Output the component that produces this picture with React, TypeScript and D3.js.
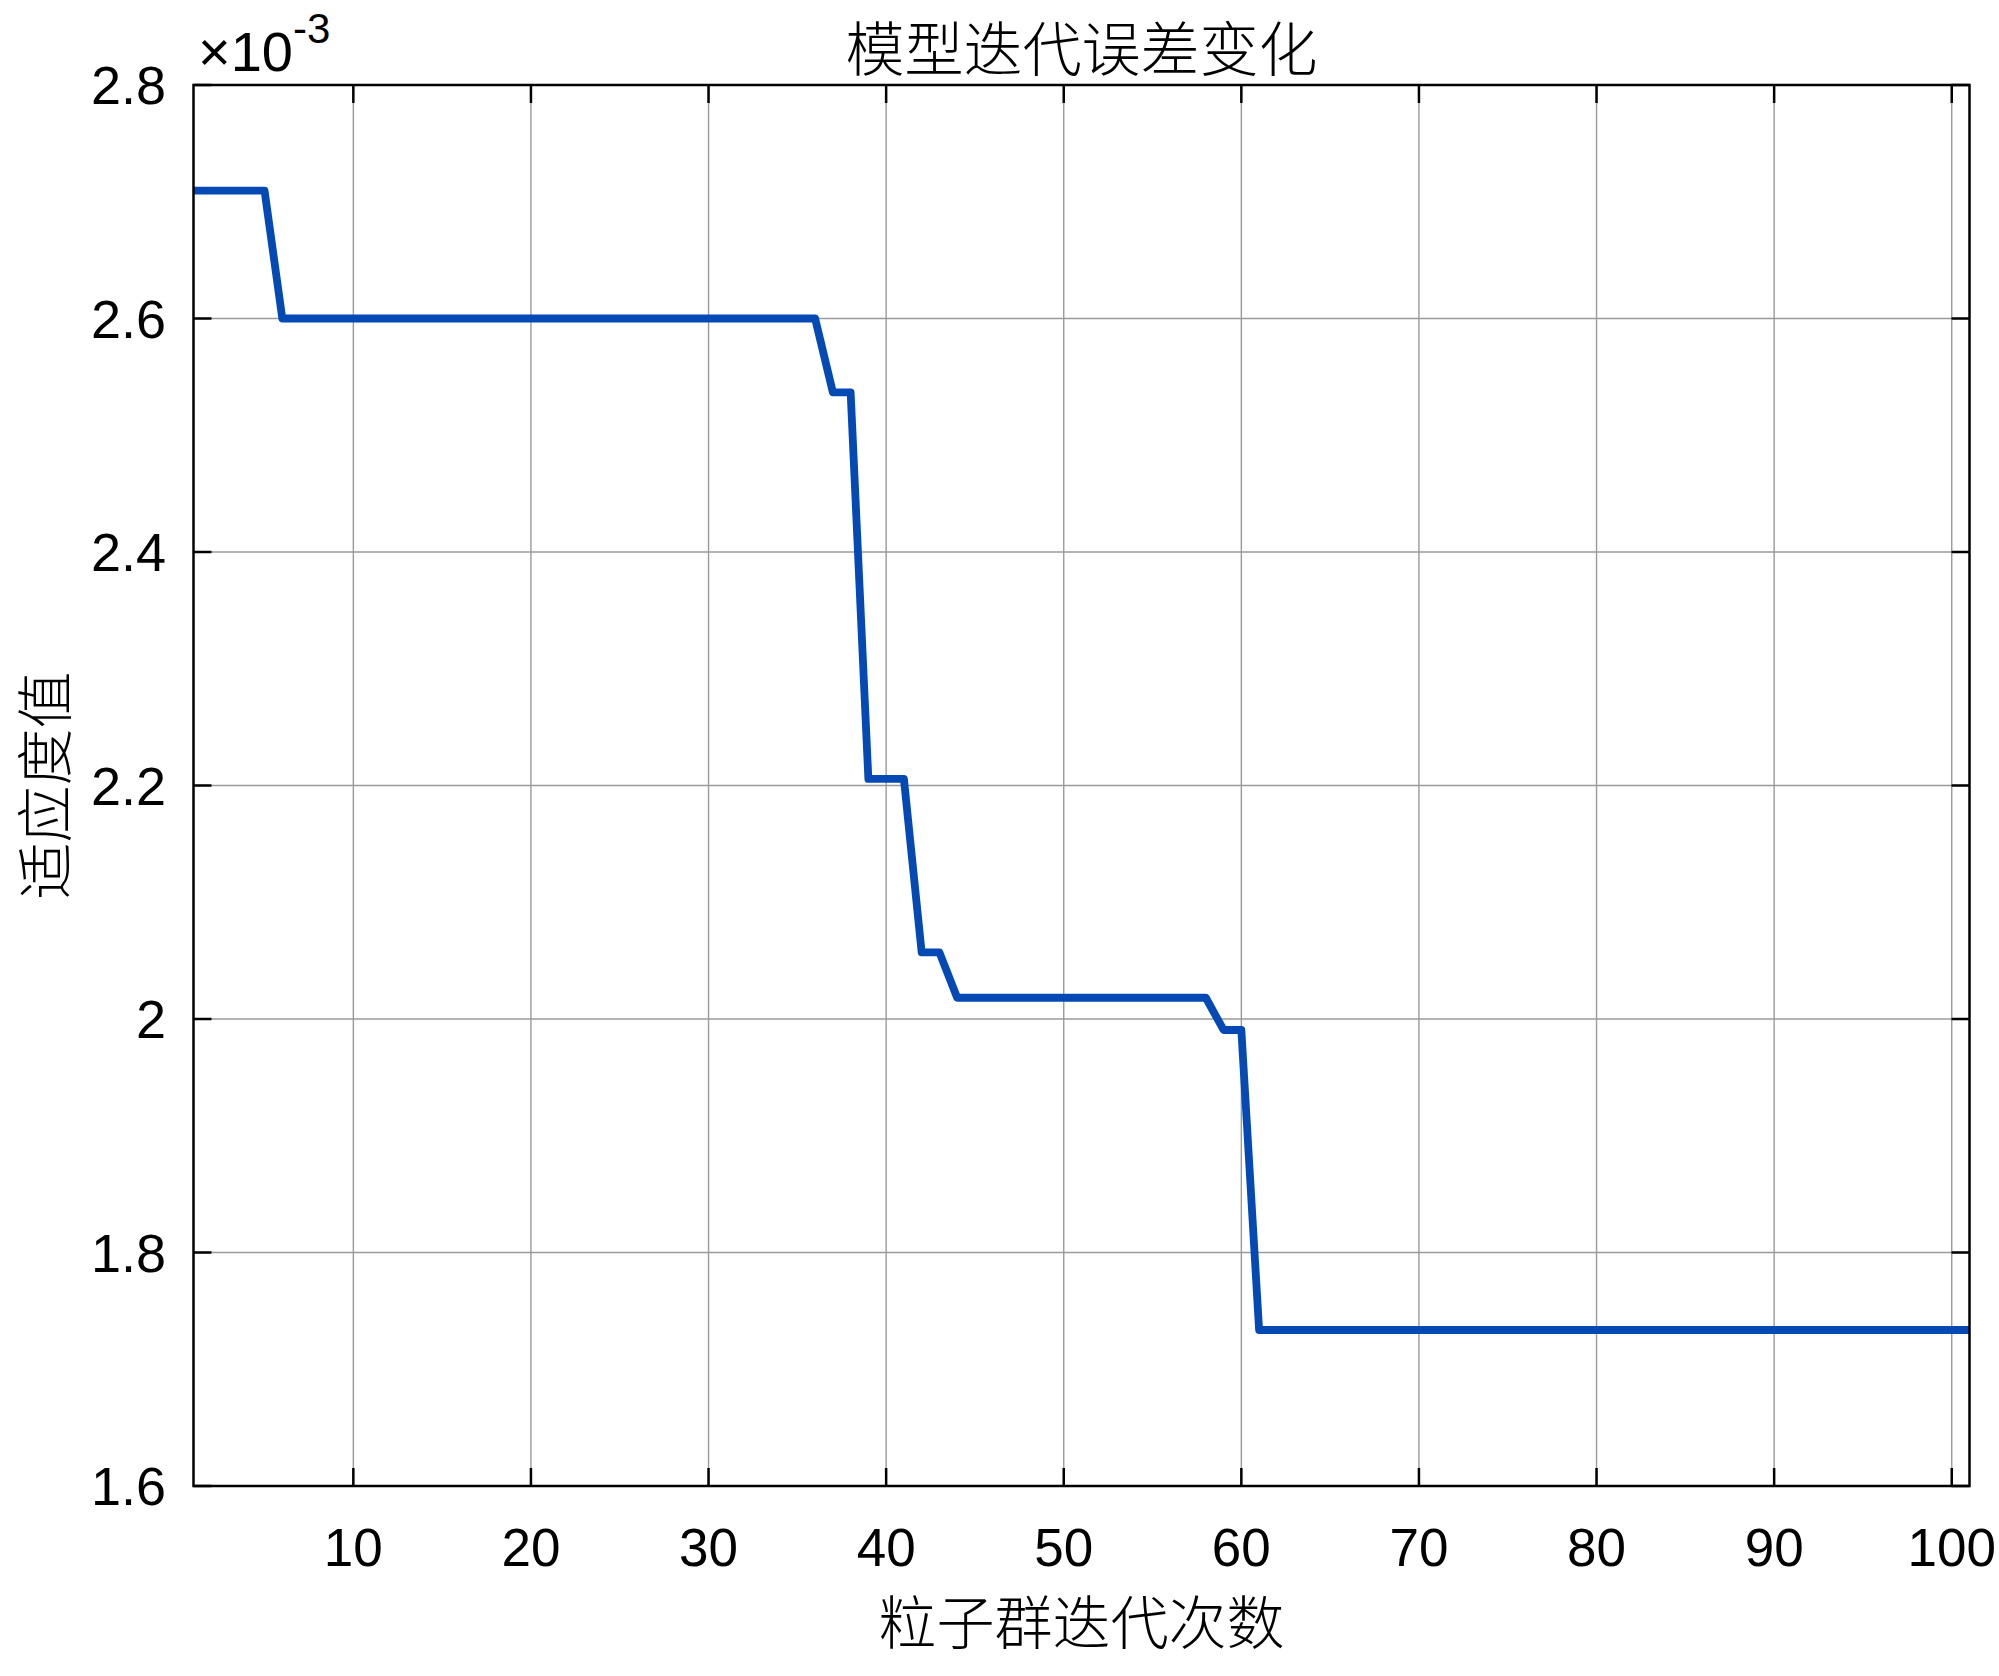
import React, { useEffect, useRef } from 'react';
import * as d3 from 'd3';

// 粒子群每次迭代的最优适应度值 (×10^-3)
const fitness = [
  2.7095, 2.7095, 2.7095, 2.7095, 2.7095,
  2.6, 2.6, 2.6, 2.6, 2.6, 2.6, 2.6, 2.6, 2.6, 2.6,
  2.6, 2.6, 2.6, 2.6, 2.6, 2.6, 2.6, 2.6, 2.6, 2.6,
  2.6, 2.6, 2.6, 2.6, 2.6, 2.6, 2.6, 2.6, 2.6, 2.6, 2.6,
  2.5368, 2.5368,
  2.2056, 2.2056, 2.2056,
  2.0571, 2.0571,
  2.0182, 2.0182, 2.0182, 2.0182, 2.0182, 2.0182, 2.0182, 2.0182,
  2.0182, 2.0182, 2.0182, 2.0182, 2.0182, 2.0182, 2.0182,
  1.9906, 1.9906,
  1.7336, 1.7336, 1.7336, 1.7336, 1.7336, 1.7336, 1.7336, 1.7336, 1.7336, 1.7336,
  1.7336, 1.7336, 1.7336, 1.7336, 1.7336, 1.7336, 1.7336, 1.7336, 1.7336, 1.7336,
  1.7336, 1.7336, 1.7336, 1.7336, 1.7336, 1.7336, 1.7336, 1.7336, 1.7336, 1.7336,
  1.7336, 1.7336, 1.7336, 1.7336, 1.7336, 1.7336, 1.7336, 1.7336, 1.7336, 1.7336,
  1.7336
];

const xTicks = [10, 20, 30, 40, 50, 60, 70, 80, 90, 100];
const yTicks = [1.6, 1.8, 2.0, 2.2, 2.4, 2.6, 2.8];

const titleText = '模型迭代误差变化';
const xLabel = '粒子群迭代次数';
const yLabel = '适应度值';

const W = 1999;
const H = 1676;
const left = 193.5;
const top = 85;
const right = 1969.5;
const bottom = 1486;

const cjk = '"Noto Sans CJK SC", sans-serif';
const latin = '"Liberation Sans", Arial, sans-serif';

const App = () => {
  const ref = useRef<SVGSVGElement | null>(null);

  useEffect(() => {
    const svg = d3.select(ref.current);
    svg.selectAll('*').remove();

    const x = d3.scaleLinear().domain([1, 101]).range([left, right]);
    const y = d3.scaleLinear().domain([1.6, 2.8]).range([bottom, top]);

    svg.append('rect').attr('width', W).attr('height', H).attr('fill', '#fff');

    // 网格
    const grid = svg.append('g').attr('stroke', '#9a9a9a').attr('stroke-width', 1.4);
    grid.selectAll('.gx').data(xTicks).enter().append('line')
      .attr('x1', (d) => x(d)).attr('x2', (d) => x(d))
      .attr('y1', top).attr('y2', bottom);
    grid.selectAll('.gy').data(yTicks).enter().append('line')
      .attr('x1', left).attr('x2', right)
      .attr('y1', (d) => y(d)).attr('y2', (d) => y(d));

    // 曲线
    const line = d3.line<number>()
      .x((d, i) => x(i + 1))
      .y((d) => y(d));

    svg.append('path')
      .datum(fitness)
      .attr('d', line)
      .attr('fill', 'none')
      .attr('stroke', '#0449b4')
      .attr('stroke-width', 7.8)
      .attr('stroke-linejoin', 'round');

    // 刻度 (四边向内)
    const tl = 18;
    const ticks = svg.append('g').attr('stroke', '#000').attr('stroke-width', 2.5);
    xTicks.forEach((t) => {
      ticks.append('line').attr('x1', x(t)).attr('x2', x(t)).attr('y1', bottom).attr('y2', bottom - tl);
      ticks.append('line').attr('x1', x(t)).attr('x2', x(t)).attr('y1', top).attr('y2', top + tl);
    });
    yTicks.forEach((t) => {
      ticks.append('line').attr('x1', left).attr('x2', left + tl).attr('y1', y(t)).attr('y2', y(t));
      ticks.append('line').attr('x1', right).attr('x2', right - tl).attr('y1', y(t)).attr('y2', y(t));
    });

    svg.append('rect')
      .attr('x', left).attr('y', top)
      .attr('width', right - left).attr('height', bottom - top)
      .attr('fill', 'none').attr('stroke', '#000').attr('stroke-width', 2.5);

    // 刻度标签
    svg.selectAll('.xt').data(xTicks).enter().append('text')
      .attr('x', (d) => x(d)).attr('y', 1566)
      .attr('text-anchor', 'middle')
      .style('font-family', latin).style('font-size', '53px')
      .text((d) => d);

    svg.selectAll('.yt').data(yTicks).enter().append('text')
      .attr('x', 166).attr('y', (d) => y(d) + 19)
      .attr('text-anchor', 'end')
      .style('font-family', latin).style('font-size', '54px')
      .text((d) => String(+d.toFixed(1)));

    // 指数
    const ex = svg.append('text')
      .attr('x', 198).attr('y', 71)
      .style('font-family', latin).style('font-size', '56px');
    ex.append('tspan').text('×10');
    ex.append('tspan').attr('dy', -28).style('font-size', '42px').text('-3');

    // 标题与坐标轴名称
    svg.append('text')
      .attr('x', (left + right) / 2).attr('y', 71)
      .attr('text-anchor', 'middle')
      .style('font-family', cjk).style('font-weight', 300).style('font-size', '59px')
      .text(titleText);

    svg.append('text')
      .attr('x', (left + right) / 2).attr('y', 1644)
      .attr('text-anchor', 'middle')
      .style('font-family', cjk).style('font-weight', 300).style('font-size', '58px')
      .text(xLabel);

    svg.append('text')
      .attr('transform', `translate(66, ${(top + bottom) / 2}) rotate(-90)`)
      .attr('text-anchor', 'middle')
      .style('font-family', cjk).style('font-weight', 300).style('font-size', '57px')
      .text(yLabel);
  }, []);

  return (
    <svg
      ref={ref}
      width={W}
      height={H}
      style={{ position: 'absolute', left: 0, top: 0, display: 'block' }}
    />
  );
};

export default App;
